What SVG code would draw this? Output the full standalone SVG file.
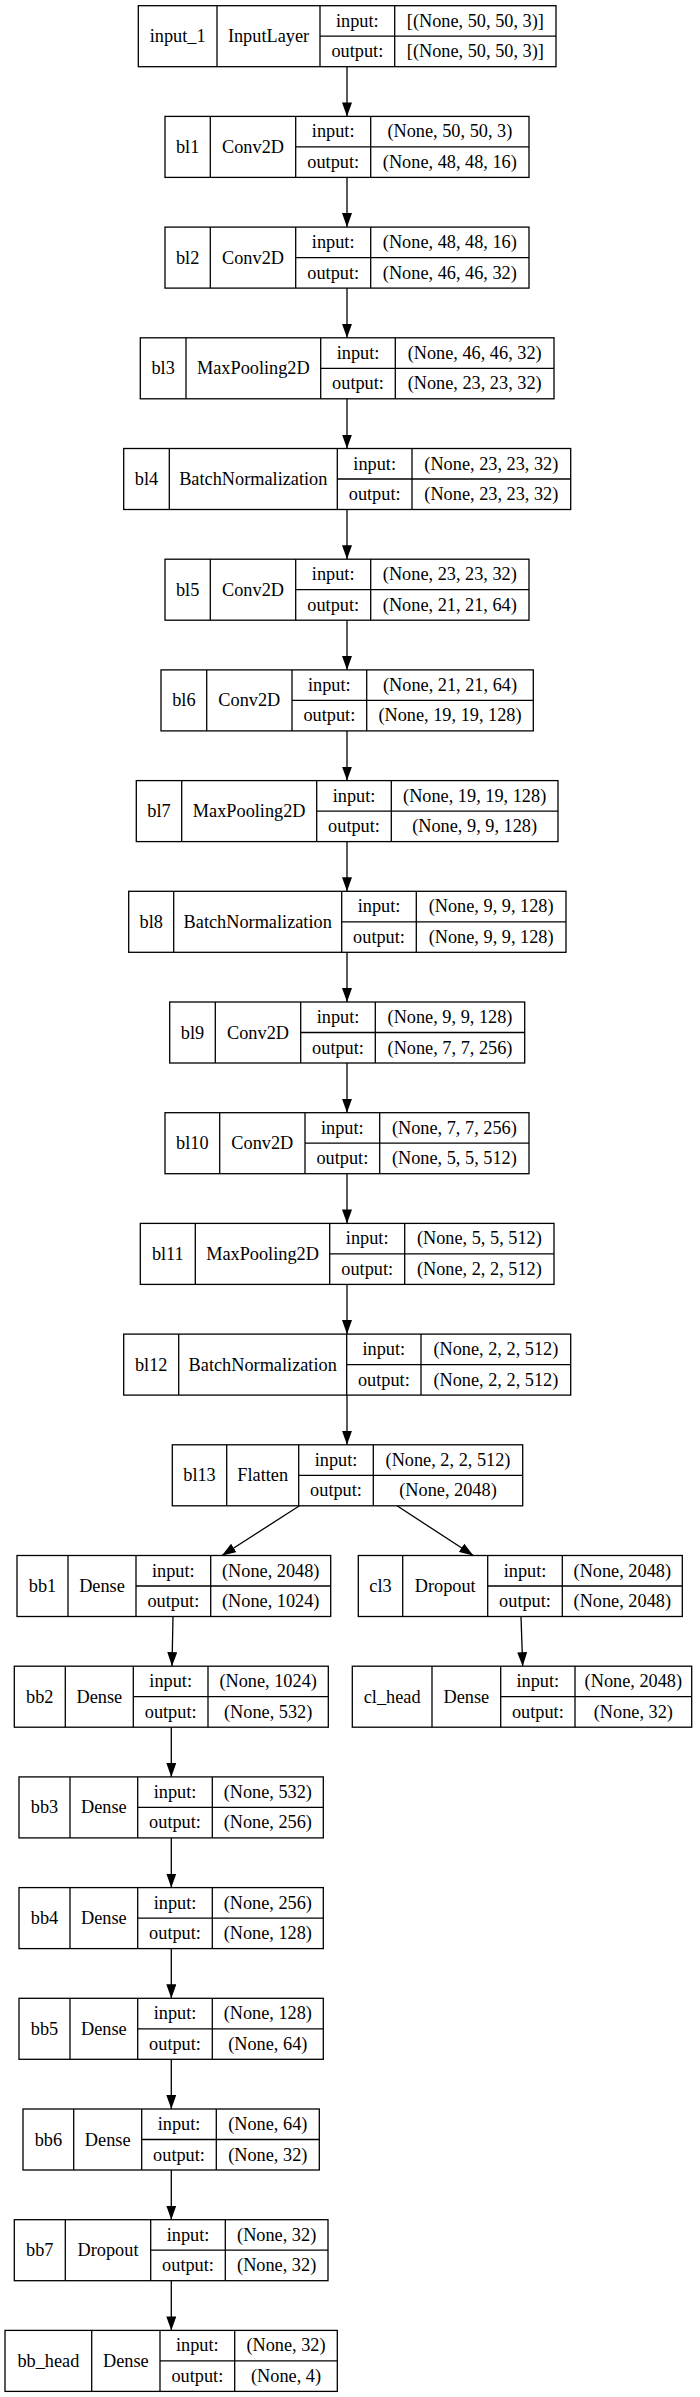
<svg xmlns="http://www.w3.org/2000/svg" width="700" height="2397" viewBox="0 0 700 2397">
<style>
.bx{fill:#fff;stroke:#000;stroke-width:1.3}
.dv{stroke:#000;stroke-width:1.3}
text{font-family:"Liberation Serif","Times New Roman",serif;font-size:18.3px;fill:#000;text-anchor:middle}
.e{stroke:#000;stroke-width:1.3;fill:none;marker-end:url(#ah)}
</style>
<defs>
<marker id="ah" markerUnits="userSpaceOnUse" markerWidth="14" markerHeight="10" refX="14" refY="5" orient="auto">
<path d="M0,0 L14,5 L0,10 z" fill="#000"/>
</marker>
</defs>
<rect width="700" height="2397" fill="#fff"/>
<g id="connectors">
<line class="e" x1="347" y1="66.7" x2="347" y2="116.4"/>
<line class="e" x1="347" y1="177.4" x2="347" y2="227.1"/>
<line class="e" x1="347" y1="288.1" x2="347" y2="337.8"/>
<line class="e" x1="347" y1="398.8" x2="347" y2="448.5"/>
<line class="e" x1="347" y1="509.5" x2="347" y2="559.2"/>
<line class="e" x1="347" y1="620.2" x2="347" y2="669.9"/>
<line class="e" x1="347" y1="730.9" x2="347" y2="780.6"/>
<line class="e" x1="347" y1="841.6" x2="347" y2="891.3"/>
<line class="e" x1="347" y1="952.3" x2="347" y2="1002"/>
<line class="e" x1="347" y1="1063" x2="347" y2="1112.7"/>
<line class="e" x1="347" y1="1173.7" x2="347" y2="1223.4"/>
<line class="e" x1="347" y1="1284.4" x2="347" y2="1334.1"/>
<line class="e" x1="347" y1="1395.1" x2="347" y2="1444.8"/>
<line class="e" x1="299.5" y1="1505.8" x2="222" y2="1555.5"/>
<line class="e" x1="397" y1="1505.8" x2="473.3" y2="1555.5"/>
<line class="e" x1="173" y1="1616.5" x2="172" y2="1666.2"/>
<line class="e" x1="521" y1="1616.5" x2="522.7" y2="1666.2"/>
<line class="e" x1="171.3" y1="1727.2" x2="171.3" y2="1776.9"/>
<line class="e" x1="171.3" y1="1837.9" x2="171.3" y2="1887.6"/>
<line class="e" x1="171.3" y1="1948.6" x2="171.3" y2="1998.3"/>
<line class="e" x1="171.3" y1="2059.3" x2="171.3" y2="2109"/>
<line class="e" x1="171.3" y1="2170" x2="171.3" y2="2219.7"/>
<line class="e" x1="171.3" y1="2280.7" x2="171.3" y2="2330.4"/>
</g>

<g id="input_1" transform="translate(0,5.7)">
<rect class="bx" x="138.3" y="0" width="417.7" height="61"/>
<line class="dv" x1="217" y1="0" x2="217" y2="61"/><line class="dv" x1="320" y1="0" x2="320" y2="61"/><line class="dv" x1="394.7" y1="0" x2="394.7" y2="61"/><line class="dv" x1="320" y1="30.5" x2="556" y2="30.5"/>
<text x="177.65" y="36.5">input_1</text><text x="268.5" y="36.5">InputLayer</text>
<text x="357.35" y="21">input:</text><text x="357.35" y="51.5">output:</text>
<text x="475.35" y="21">[(None, 50, 50, 3)]</text><text x="475.35" y="51.5">[(None, 50, 50, 3)]</text>
</g>

<g id="bl1" transform="translate(0,116.4)">
<rect class="bx" x="165" y="0" width="364" height="61"/>
<line class="dv" x1="210.3" y1="0" x2="210.3" y2="61"/><line class="dv" x1="295.7" y1="0" x2="295.7" y2="61"/><line class="dv" x1="370.7" y1="0" x2="370.7" y2="61"/><line class="dv" x1="295.7" y1="30.5" x2="529" y2="30.5"/>
<text x="187.65" y="36.5">bl1</text><text x="253" y="36.5">Conv2D</text>
<text x="333.2" y="21">input:</text><text x="333.2" y="51.5">output:</text>
<text x="449.85" y="21">(None, 50, 50, 3)</text><text x="449.85" y="51.5">(None, 48, 48, 16)</text>
</g>

<g id="bl2" transform="translate(0,227.1)">
<rect class="bx" x="165" y="0" width="364" height="61"/>
<line class="dv" x1="210.3" y1="0" x2="210.3" y2="61"/><line class="dv" x1="295.7" y1="0" x2="295.7" y2="61"/><line class="dv" x1="370.7" y1="0" x2="370.7" y2="61"/><line class="dv" x1="295.7" y1="30.5" x2="529" y2="30.5"/>
<text x="187.65" y="36.5">bl2</text><text x="253" y="36.5">Conv2D</text>
<text x="333.2" y="21">input:</text><text x="333.2" y="51.5">output:</text>
<text x="449.85" y="21">(None, 48, 48, 16)</text><text x="449.85" y="51.5">(None, 46, 46, 32)</text>
</g>

<g id="bl3" transform="translate(0,337.8)">
<rect class="bx" x="140.3" y="0" width="413.7" height="61"/>
<line class="dv" x1="186" y1="0" x2="186" y2="61"/><line class="dv" x1="320.7" y1="0" x2="320.7" y2="61"/><line class="dv" x1="395.3" y1="0" x2="395.3" y2="61"/><line class="dv" x1="320.7" y1="30.5" x2="554" y2="30.5"/>
<text x="163.15" y="36.5">bl3</text><text x="253.35" y="36.5">MaxPooling2D</text>
<text x="358" y="21">input:</text><text x="358" y="51.5">output:</text>
<text x="474.65" y="21">(None, 46, 46, 32)</text><text x="474.65" y="51.5">(None, 23, 23, 32)</text>
</g>

<g id="bl4" transform="translate(0,448.5)">
<rect class="bx" x="123.7" y="0" width="447" height="61"/>
<line class="dv" x1="169.3" y1="0" x2="169.3" y2="61"/><line class="dv" x1="337.3" y1="0" x2="337.3" y2="61"/><line class="dv" x1="412" y1="0" x2="412" y2="61"/><line class="dv" x1="337.3" y1="30.5" x2="570.7" y2="30.5"/>
<text x="146.5" y="36.5">bl4</text><text x="253.3" y="36.5">BatchNormalization</text>
<text x="374.65" y="21">input:</text><text x="374.65" y="51.5">output:</text>
<text x="491.35" y="21">(None, 23, 23, 32)</text><text x="491.35" y="51.5">(None, 23, 23, 32)</text>
</g>

<g id="bl5" transform="translate(0,559.2)">
<rect class="bx" x="165" y="0" width="364" height="61"/>
<line class="dv" x1="210.3" y1="0" x2="210.3" y2="61"/><line class="dv" x1="295.7" y1="0" x2="295.7" y2="61"/><line class="dv" x1="370.7" y1="0" x2="370.7" y2="61"/><line class="dv" x1="295.7" y1="30.5" x2="529" y2="30.5"/>
<text x="187.65" y="36.5">bl5</text><text x="253" y="36.5">Conv2D</text>
<text x="333.2" y="21">input:</text><text x="333.2" y="51.5">output:</text>
<text x="449.85" y="21">(None, 23, 23, 32)</text><text x="449.85" y="51.5">(None, 21, 21, 64)</text>
</g>

<g id="bl6" transform="translate(0,669.9)">
<rect class="bx" x="161" y="0" width="372.3" height="61"/>
<line class="dv" x1="206.7" y1="0" x2="206.7" y2="61"/><line class="dv" x1="292" y1="0" x2="292" y2="61"/><line class="dv" x1="366.7" y1="0" x2="366.7" y2="61"/><line class="dv" x1="292" y1="30.5" x2="533.3" y2="30.5"/>
<text x="183.85" y="36.5">bl6</text><text x="249.35" y="36.5">Conv2D</text>
<text x="329.35" y="21">input:</text><text x="329.35" y="51.5">output:</text>
<text x="450" y="21">(None, 21, 21, 64)</text><text x="450" y="51.5">(None, 19, 19, 128)</text>
</g>

<g id="bl7" transform="translate(0,780.6)">
<rect class="bx" x="136.3" y="0" width="421.7" height="61"/>
<line class="dv" x1="181.7" y1="0" x2="181.7" y2="61"/><line class="dv" x1="316.7" y1="0" x2="316.7" y2="61"/><line class="dv" x1="391.3" y1="0" x2="391.3" y2="61"/><line class="dv" x1="316.7" y1="30.5" x2="558" y2="30.5"/>
<text x="159" y="36.5">bl7</text><text x="249.2" y="36.5">MaxPooling2D</text>
<text x="354" y="21">input:</text><text x="354" y="51.5">output:</text>
<text x="474.65" y="21">(None, 19, 19, 128)</text><text x="474.65" y="51.5">(None, 9, 9, 128)</text>
</g>

<g id="bl8" transform="translate(0,891.3)">
<rect class="bx" x="128.7" y="0" width="437.3" height="61"/>
<line class="dv" x1="173.7" y1="0" x2="173.7" y2="61"/><line class="dv" x1="341.7" y1="0" x2="341.7" y2="61"/><line class="dv" x1="416.3" y1="0" x2="416.3" y2="61"/><line class="dv" x1="341.7" y1="30.5" x2="566" y2="30.5"/>
<text x="151.2" y="36.5">bl8</text><text x="257.7" y="36.5">BatchNormalization</text>
<text x="379" y="21">input:</text><text x="379" y="51.5">output:</text>
<text x="491.15" y="21">(None, 9, 9, 128)</text><text x="491.15" y="51.5">(None, 9, 9, 128)</text>
</g>

<g id="bl9" transform="translate(0,1002)">
<rect class="bx" x="169.7" y="0" width="355" height="61"/>
<line class="dv" x1="215.3" y1="0" x2="215.3" y2="61"/><line class="dv" x1="300.7" y1="0" x2="300.7" y2="61"/><line class="dv" x1="375.3" y1="0" x2="375.3" y2="61"/><line class="dv" x1="300.7" y1="30.5" x2="524.7" y2="30.5"/>
<text x="192.5" y="36.5">bl9</text><text x="258" y="36.5">Conv2D</text>
<text x="338" y="21">input:</text><text x="338" y="51.5">output:</text>
<text x="450" y="21">(None, 9, 9, 128)</text><text x="450" y="51.5">(None, 7, 7, 256)</text>
</g>

<g id="bl10" transform="translate(0,1112.7)">
<rect class="bx" x="165" y="0" width="364" height="61"/>
<line class="dv" x1="219.7" y1="0" x2="219.7" y2="61"/><line class="dv" x1="305" y1="0" x2="305" y2="61"/><line class="dv" x1="379.7" y1="0" x2="379.7" y2="61"/><line class="dv" x1="305" y1="30.5" x2="529" y2="30.5"/>
<text x="192.35" y="36.5">bl10</text><text x="262.35" y="36.5">Conv2D</text>
<text x="342.35" y="21">input:</text><text x="342.35" y="51.5">output:</text>
<text x="454.35" y="21">(None, 7, 7, 256)</text><text x="454.35" y="51.5">(None, 5, 5, 512)</text>
</g>

<g id="bl11" transform="translate(0,1223.4)">
<rect class="bx" x="140.3" y="0" width="413.7" height="61"/>
<line class="dv" x1="195.3" y1="0" x2="195.3" y2="61"/><line class="dv" x1="329.7" y1="0" x2="329.7" y2="61"/><line class="dv" x1="404.7" y1="0" x2="404.7" y2="61"/><line class="dv" x1="329.7" y1="30.5" x2="554" y2="30.5"/>
<text x="167.8" y="36.5">bl11</text><text x="262.5" y="36.5">MaxPooling2D</text>
<text x="367.2" y="21">input:</text><text x="367.2" y="51.5">output:</text>
<text x="479.35" y="21">(None, 5, 5, 512)</text><text x="479.35" y="51.5">(None, 2, 2, 512)</text>
</g>

<g id="bl12" transform="translate(0,1334.1)">
<rect class="bx" x="123.7" y="0" width="447" height="61"/>
<line class="dv" x1="178.7" y1="0" x2="178.7" y2="61"/><line class="dv" x1="346.7" y1="0" x2="346.7" y2="61"/><line class="dv" x1="421" y1="0" x2="421" y2="61"/><line class="dv" x1="346.7" y1="30.5" x2="570.7" y2="30.5"/>
<text x="151.2" y="36.5">bl12</text><text x="262.7" y="36.5">BatchNormalization</text>
<text x="383.85" y="21">input:</text><text x="383.85" y="51.5">output:</text>
<text x="495.85" y="21">(None, 2, 2, 512)</text><text x="495.85" y="51.5">(None, 2, 2, 512)</text>
</g>

<g id="bl13" transform="translate(0,1444.8)">
<rect class="bx" x="172.3" y="0" width="350.4" height="61"/>
<line class="dv" x1="226.7" y1="0" x2="226.7" y2="61"/><line class="dv" x1="298.7" y1="0" x2="298.7" y2="61"/><line class="dv" x1="373.3" y1="0" x2="373.3" y2="61"/><line class="dv" x1="298.7" y1="30.5" x2="522.7" y2="30.5"/>
<text x="199.5" y="36.5">bl13</text><text x="262.7" y="36.5">Flatten</text>
<text x="336" y="21">input:</text><text x="336" y="51.5">output:</text>
<text x="448" y="21">(None, 2, 2, 512)</text><text x="448" y="51.5">(None, 2048)</text>
</g>

<g id="bb1" transform="translate(0,1555.5)">
<rect class="bx" x="17" y="0" width="313.7" height="61"/>
<line class="dv" x1="68" y1="0" x2="68" y2="61"/><line class="dv" x1="136" y1="0" x2="136" y2="61"/><line class="dv" x1="210.7" y1="0" x2="210.7" y2="61"/><line class="dv" x1="136" y1="30.5" x2="330.7" y2="30.5"/>
<text x="42.5" y="36.5">bb1</text><text x="102" y="36.5">Dense</text>
<text x="173.35" y="21">input:</text><text x="173.35" y="51.5">output:</text>
<text x="270.7" y="21">(None, 2048)</text><text x="270.7" y="51.5">(None, 1024)</text>
</g>

<g id="cl3" transform="translate(0,1555.5)">
<rect class="bx" x="358.3" y="0" width="324" height="61"/>
<line class="dv" x1="402.7" y1="0" x2="402.7" y2="61"/><line class="dv" x1="487.7" y1="0" x2="487.7" y2="61"/><line class="dv" x1="562.3" y1="0" x2="562.3" y2="61"/><line class="dv" x1="487.7" y1="30.5" x2="682.3" y2="30.5"/>
<text x="380.5" y="36.5">cl3</text><text x="445.2" y="36.5">Dropout</text>
<text x="525" y="21">input:</text><text x="525" y="51.5">output:</text>
<text x="622.3" y="21">(None, 2048)</text><text x="622.3" y="51.5">(None, 2048)</text>
</g>

<g id="bb2" transform="translate(0,1666.2)">
<rect class="bx" x="14.3" y="0" width="314" height="61"/>
<line class="dv" x1="65.3" y1="0" x2="65.3" y2="61"/><line class="dv" x1="133.3" y1="0" x2="133.3" y2="61"/><line class="dv" x1="208" y1="0" x2="208" y2="61"/><line class="dv" x1="133.3" y1="30.5" x2="328.3" y2="30.5"/>
<text x="39.8" y="36.5">bb2</text><text x="99.3" y="36.5">Dense</text>
<text x="170.65" y="21">input:</text><text x="170.65" y="51.5">output:</text>
<text x="268.15" y="21">(None, 1024)</text><text x="268.15" y="51.5">(None, 532)</text>
</g>

<g id="cl_head" transform="translate(0,1666.2)">
<rect class="bx" x="352.3" y="0" width="339.4" height="61"/>
<line class="dv" x1="432" y1="0" x2="432" y2="61"/><line class="dv" x1="500.7" y1="0" x2="500.7" y2="61"/><line class="dv" x1="575" y1="0" x2="575" y2="61"/><line class="dv" x1="500.7" y1="30.5" x2="691.7" y2="30.5"/>
<text x="392.15" y="36.5">cl_head</text><text x="466.35" y="36.5">Dense</text>
<text x="537.85" y="21">input:</text><text x="537.85" y="51.5">output:</text>
<text x="633.35" y="21">(None, 2048)</text><text x="633.35" y="51.5">(None, 32)</text>
</g>

<g id="bb3" transform="translate(0,1776.9)">
<rect class="bx" x="19" y="0" width="304.3" height="61"/>
<line class="dv" x1="70" y1="0" x2="70" y2="61"/><line class="dv" x1="137.7" y1="0" x2="137.7" y2="61"/><line class="dv" x1="212.3" y1="0" x2="212.3" y2="61"/><line class="dv" x1="137.7" y1="30.5" x2="323.3" y2="30.5"/>
<text x="44.5" y="36.5">bb3</text><text x="103.85" y="36.5">Dense</text>
<text x="175" y="21">input:</text><text x="175" y="51.5">output:</text>
<text x="267.8" y="21">(None, 532)</text><text x="267.8" y="51.5">(None, 256)</text>
</g>

<g id="bb4" transform="translate(0,1887.6)">
<rect class="bx" x="19" y="0" width="304.3" height="61"/>
<line class="dv" x1="70" y1="0" x2="70" y2="61"/><line class="dv" x1="137.7" y1="0" x2="137.7" y2="61"/><line class="dv" x1="212.3" y1="0" x2="212.3" y2="61"/><line class="dv" x1="137.7" y1="30.5" x2="323.3" y2="30.5"/>
<text x="44.5" y="36.5">bb4</text><text x="103.85" y="36.5">Dense</text>
<text x="175" y="21">input:</text><text x="175" y="51.5">output:</text>
<text x="267.8" y="21">(None, 256)</text><text x="267.8" y="51.5">(None, 128)</text>
</g>

<g id="bb5" transform="translate(0,1998.3)">
<rect class="bx" x="19" y="0" width="304.3" height="61"/>
<line class="dv" x1="70" y1="0" x2="70" y2="61"/><line class="dv" x1="137.7" y1="0" x2="137.7" y2="61"/><line class="dv" x1="212.3" y1="0" x2="212.3" y2="61"/><line class="dv" x1="137.7" y1="30.5" x2="323.3" y2="30.5"/>
<text x="44.5" y="36.5">bb5</text><text x="103.85" y="36.5">Dense</text>
<text x="175" y="21">input:</text><text x="175" y="51.5">output:</text>
<text x="267.8" y="21">(None, 128)</text><text x="267.8" y="51.5">(None, 64)</text>
</g>

<g id="bb6" transform="translate(0,2109)">
<rect class="bx" x="23" y="0" width="296.3" height="61"/>
<line class="dv" x1="73.7" y1="0" x2="73.7" y2="61"/><line class="dv" x1="141.7" y1="0" x2="141.7" y2="61"/><line class="dv" x1="216.3" y1="0" x2="216.3" y2="61"/><line class="dv" x1="141.7" y1="30.5" x2="319.3" y2="30.5"/>
<text x="48.35" y="36.5">bb6</text><text x="107.7" y="36.5">Dense</text>
<text x="179" y="21">input:</text><text x="179" y="51.5">output:</text>
<text x="267.8" y="21">(None, 64)</text><text x="267.8" y="51.5">(None, 32)</text>
</g>

<g id="bb7" transform="translate(0,2219.7)">
<rect class="bx" x="14.3" y="0" width="313.7" height="61"/>
<line class="dv" x1="65.3" y1="0" x2="65.3" y2="61"/><line class="dv" x1="150.7" y1="0" x2="150.7" y2="61"/><line class="dv" x1="225.3" y1="0" x2="225.3" y2="61"/><line class="dv" x1="150.7" y1="30.5" x2="328" y2="30.5"/>
<text x="39.8" y="36.5">bb7</text><text x="108" y="36.5">Dropout</text>
<text x="188" y="21">input:</text><text x="188" y="51.5">output:</text>
<text x="276.65" y="21">(None, 32)</text><text x="276.65" y="51.5">(None, 32)</text>
</g>

<g id="bb_head" transform="translate(0,2330.4)">
<rect class="bx" x="5" y="0" width="332.3" height="61"/>
<line class="dv" x1="91.7" y1="0" x2="91.7" y2="61"/><line class="dv" x1="160" y1="0" x2="160" y2="61"/><line class="dv" x1="234.7" y1="0" x2="234.7" y2="61"/><line class="dv" x1="160" y1="30.5" x2="337.3" y2="30.5"/>
<text x="48.35" y="36.5">bb_head</text><text x="125.85" y="36.5">Dense</text>
<text x="197.35" y="21">input:</text><text x="197.35" y="51.5">output:</text>
<text x="286" y="21">(None, 32)</text><text x="286" y="51.5">(None, 4)</text>
</g>
</svg>
